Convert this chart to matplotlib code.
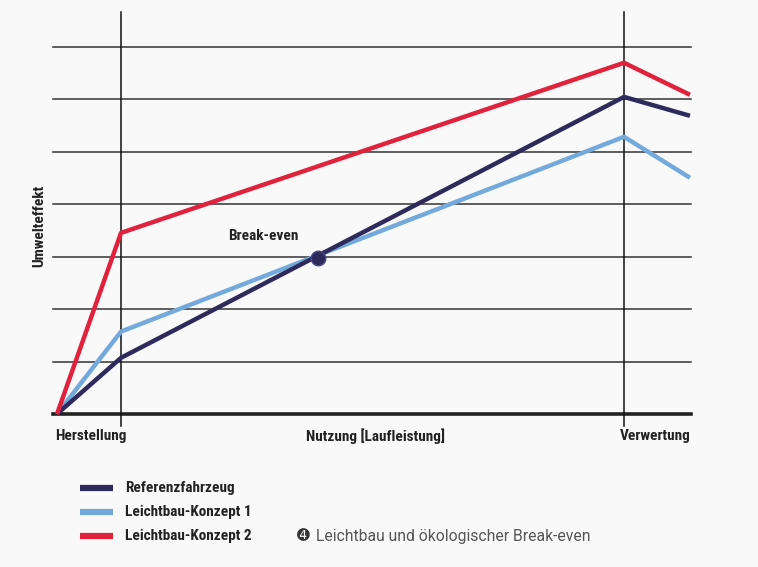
import matplotlib
matplotlib.use("Agg")
import matplotlib.pyplot as plt
from matplotlib import font_manager

# Stages along the x axis (start, Herstellung, Verwertung, end)
stage_x = [0, 1, 8.86, 9.89]
stage_labels = ["Herstellung", "Nutzung [Laufleistung]", "Verwertung"]

# Umwelteffekt values (grid units) per series
referenz = [0, 1.07, 6.04, 5.68]
konzept1 = [0, 1.57, 5.28, 4.50]
konzept2 = [0, 3.45, 6.69, 6.08]
series_names = ["Referenzfahrzeug", "Leichtbau-Konzept 1", "Leichtbau-Konzept 2"]
break_even = (4.08, 2.97)

navy = "#2e2b5c"
lightblue = "#74a9dc"
red = "#e1223c"
bg = "#f9f9f9"

names = {f.name for f in font_manager.fontManager.ttflist}
narrow = "Roboto"
for cand in ["Roboto Condensed", "Liberation Sans Narrow", "Open Sans Condensed"]:
    if cand in names:
        narrow = cand
        break
fs = 11 if narrow != "Roboto" else 9.6

fig = plt.figure(figsize=(7.58, 5.67), dpi=100, facecolor=bg)
ax = fig.add_axes([0, 0, 1, 1])
ax.set_facecolor(bg)
ax.set_xlim(-57 / 64, (758 - 57) / 64)
ax.set_ylim(-153 / 52.5, 414 / 52.5)
ax.axis("off")

# grid
for v in range(1, 8):
    ax.plot([-0.07, 9.9], [v, v], color="#333333", lw=1.1, zorder=1)
ax.plot([-0.07, 9.9], [0, 0], color="#222222", lw=2.6, zorder=1)
for xv in stage_x[1:3]:
    ax.plot([xv, xv], [-0.22, 7.66], color="#111111", lw=1.1, zorder=2)

# series
ax.plot(stage_x, konzept1, color=lightblue, lw=3.2, zorder=3, solid_capstyle="butt")
ax.plot(stage_x, referenz, color=navy, lw=3.2, zorder=4, solid_capstyle="butt")
ax.plot(stage_x, konzept2, color=red, lw=3.2, zorder=5, solid_capstyle="butt")

ax.scatter([break_even[0]], [break_even[1]], s=110, color=navy, edgecolor="#4a4a8a",
           linewidth=1, zorder=6)
ax.text(break_even[0] - 0.3, break_even[1] + 0.28, "Break-even", fontsize=fs,
        fontweight="bold", family=narrow, color="#222222", ha="right", va="bottom")

# stage labels
ly = -0.42
ax.text(-0.03, ly, stage_labels[0], fontsize=fs, fontweight="bold", family=narrow,
        color="#222222", ha="left", va="center")
ax.text(4.97, ly, stage_labels[1], fontsize=fs, fontweight="bold", family=narrow,
        color="#222222", ha="center", va="center")
ax.text(9.9, ly, stage_labels[2], fontsize=fs, fontweight="bold", family=narrow,
        color="#222222", ha="right", va="center")

ax.text(-0.27, 3.58, "Umwelteffekt", fontsize=fs, fontweight="bold", family=narrow,
        color="#222222", rotation=90, ha="center", va="center")

# legend
colors = [navy, lightblue, red]
for i, (name, c) in enumerate(zip(series_names, colors)):
    yy = (414 - (488 + 24 * i)) / 52.5
    ax.plot([0.36, 0.88], [yy, yy], color=c, lw=4.5, solid_capstyle="butt")
    ax.text(1.06, yy, name, fontsize=fs, fontweight="bold", family=narrow,
            color="#222222", ha="left", va="center")

yy = (414 - 536) / 52.5
ax.text(3.75, yy, "\u278d", fontsize=11, family="DejaVu Sans", color="#333333",
        ha="left", va="center")
ax.text(4.05, yy, "Leichtbau und ökologischer Break-even", fontsize=11.3,
        family="Roboto", color="#555555", ha="left", va="center")

fig.savefig("out.png", dpi=100, facecolor=bg)
